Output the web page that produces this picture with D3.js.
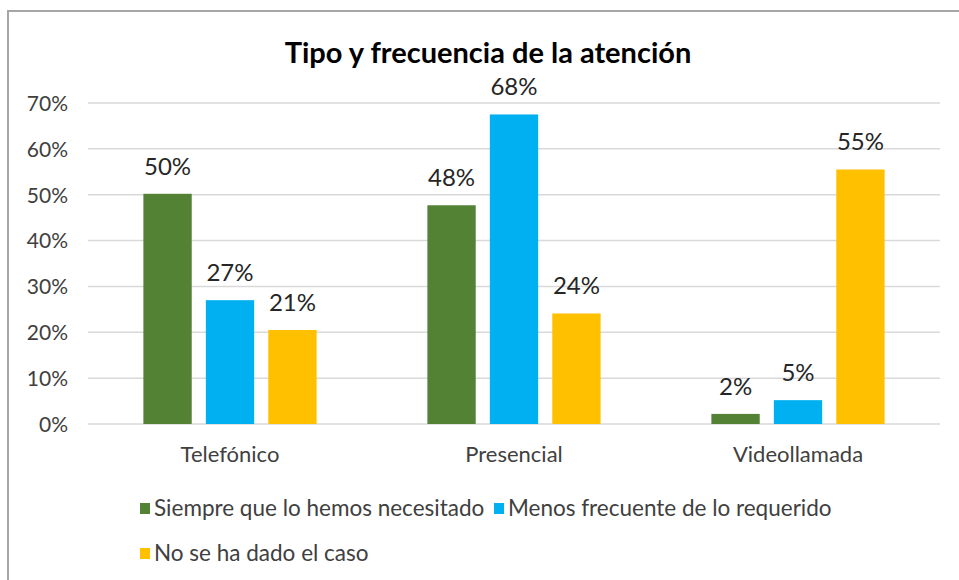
<!DOCTYPE html>
<html>
<head>
<meta charset="utf-8">
<script src="https://cdn.jsdelivr.net/npm/d3@7"></script>
<style>
  body { margin: 0; background: #fff; }
  text { font-family: Lato, "Open Sans", sans-serif; }
</style>
</head>
<body>
<script>
// chart data
var categories = ["Telefónico", "Presencial", "Videollamada"];
var seriesNames = ["Siempre que lo hemos necesitado", "Menos frecuente de lo requerido", "No se ha dado el caso"];
var siempre = [0.502, 0.477, 0.022];
var menos = [0.27, 0.675, 0.052];
var noCaso = [0.205, 0.241, 0.555];
var labels = [["50%", "48%", "2%"], ["27%", "68%", "5%"], ["21%", "24%", "55%"]];
var yTicks = [0, 0.1, 0.2, 0.3, 0.4, 0.5, 0.6, 0.7];
var colors = ["#548235", "#00B0F0", "#FFC000"];

var values = [siempre, menos, noCaso];

var width = 959, height = 580;

var svg = d3.select("body")
    .append("svg")
    .attr("width", width)
    .attr("height", height);

// chart frame
svg.append("rect")
    .attr("x", 8)
    .attr("y", 11)
    .attr("width", 980)
    .attr("height", 600)
    .attr("fill", "#fff")
    .attr("stroke", "#A6A6A6")
    .attr("stroke-width", 2);

// title
svg.append("text")
    .attr("x", 488)
    .attr("y", 63)
    .attr("text-anchor", "middle")
    .style("font-size", "29px")
    .style("font-weight", "bold")
    .style("fill", "#000")
    .text("Tipo y frecuencia de la atención");

// scales
var y = d3.scaleLinear().domain([0, 0.7]).range([424, 103]);

var x0 = d3.scaleBand()
    .domain(categories)
    .range([88, 940])
    .paddingInner(0.39)
    .paddingOuter(0.195);

var x1 = d3.scaleBand()
    .domain(d3.range(seriesNames.length))
    .range([0, x0.bandwidth()])
    .paddingInner(0.226);

// gridlines
svg.selectAll(".grid")
    .data(yTicks)
    .enter()
    .append("line")
        .attr("class", "grid")
        .attr("x1", 88)
        .attr("x2", 940)
        .attr("y1", (d) => y(d))
        .attr("y2", (d) => y(d))
        .attr("stroke", "#D9D9D9")
        .attr("stroke-width", 1.5);

// y axis labels
var yAxis = d3.axisLeft(y)
    .tickValues(yTicks)
    .tickFormat(d3.format(".0%"))
    .tickSize(0)
    .tickPadding(0);

var yg = svg.append("g")
    .attr("transform", "translate(68,0)")
    .call(yAxis);
yg.select(".domain").remove();
yg.selectAll("text")
    .attr("dy", "0.35em")
    .style("font-size", "21px")
    .style("font-family", "Lato, sans-serif")
    .style("fill", "#404040");

// x axis labels
var xAxis = d3.axisBottom(x0).tickSize(0).tickPadding(0);
var xg = svg.append("g")
    .attr("transform", "translate(0,462)")
    .call(xAxis);
xg.select(".domain").remove();
xg.selectAll("text")
    .attr("y", 0)
    .attr("dy", "0")
    .style("font-size", "22px")
    .style("font-family", "Lato, sans-serif")
    .style("fill", "#404040");

// bars
var barData = [];
categories.forEach((c, ci) => {
    seriesNames.forEach((s, si) => {
        barData.push({cat: c, s: si, v: values[si][ci], label: labels[si][ci]});
    });
});

svg.selectAll(".bar")
    .data(barData)
    .enter()
    .append("rect")
        .attr("class", "bar")
        .attr("x", (d) => x0(d.cat) + x1(d.s))
        .attr("y", (d) => y(d.v))
        .attr("width", x1.bandwidth())
        .attr("height", (d) => y(0) - y(d.v))
        .attr("fill", (d) => colors[d.s]);

svg.selectAll(".lbl")
    .data(barData)
    .enter()
    .append("text")
        .attr("class", "lbl")
        .attr("x", (d) => x0(d.cat) + x1(d.s) + x1.bandwidth() / 2)
        .attr("y", (d) => y(d.v) - 19)
        .attr("text-anchor", "middle")
        .style("font-size", "24px")
        .style("fill", "#262626")
        .text((d) => d.label);

// legend
var legendPos = [{x: 140, y: 508}, {x: 494, y: 508}, {x: 140, y: 553}];
var legend = svg.selectAll(".legend")
    .data(seriesNames)
    .enter()
    .append("g")
        .attr("class", "legend")
        .attr("transform", (d, i) => "translate(" + legendPos[i].x + "," + legendPos[i].y + ")");
legend.append("rect")
    .attr("x", 0)
    .attr("y", -5)
    .attr("width", 10)
    .attr("height", 11)
    .attr("fill", (d, i) => colors[i]);
legend.append("text")
    .attr("x", 14)
    .attr("y", 0)
    .attr("dy", "0.35em")
    .style("font-size", "22.5px")
    .style("fill", "#404040")
    .text((d) => d);
</script>
</body>
</html>
